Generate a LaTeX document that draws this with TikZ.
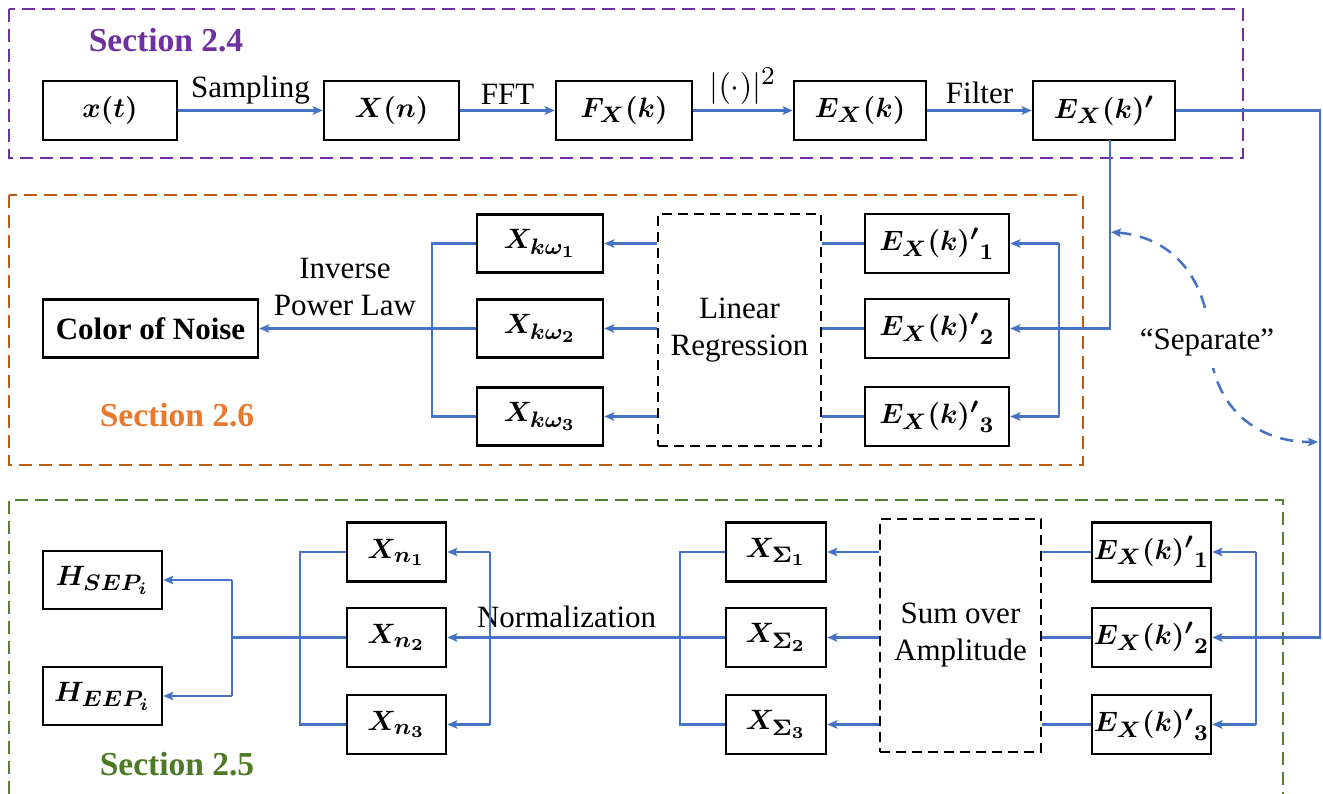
\documentclass[tikz,border=0pt]{standalone}
\usepackage{graphicx}
\usepackage{fontspec}
\setmainfont{Liberation Serif}
\DeclareMathSizes{10}{10}{8}{6}
\newcommand{\mth}[1]{\scalebox{2.8}{\boldmath$#1$}}
\usetikzlibrary{arrows.meta}
\definecolor{lblue}{HTML}{4472C4}
\definecolor{secpurple}{HTML}{7030A0}
\definecolor{secorange}{HTML}{C55A11}
\definecolor{txtorange}{HTML}{E8792F}
\definecolor{secgreen}{HTML}{548235}
\definecolor{txtgreen}{HTML}{4E7A27}
\tikzset{
  box/.style={draw=black, line width=2.7pt, inner sep=0pt, fill=white},
  conn/.style={draw=lblue, line width=2.4pt},
  arr/.style={conn, -{Stealth[length=10pt,width=8.5pt,inset=2pt]}},
  secbox/.style={line width=1.8pt, dash pattern=on 13pt off 7pt},
  procbox/.style={draw=black, line width=2.8pt, dash pattern=on 10pt off 6pt, inner sep=0pt,
    align=center, font=\fontsize{31}{37}\selectfont},
  lbl/.style={font=\fontsize{31}{37}\selectfont, align=center, inner sep=0pt},
  sectxt/.style={font=\bfseries\fontsize{33.5}{36}\selectfont, inner sep=0pt},
  sepline/.style={draw=lblue, line width=2.5pt, dash pattern=on 13pt off 9pt,
    {Stealth[length=10pt,width=8.5pt,inset=2pt]}-{Stealth[length=10pt,width=8.5pt,inset=2pt]}}
}
\begin{document}
\begin{tikzpicture}[x=1pt,y=-1pt]
\useasboundingbox (0,0) rectangle (1323,794);
\fill[white] (0,0) rectangle (1323,794);

% section frames
\draw[secbox, secpurple] (9,9) rectangle (1243,158);
\draw[secbox, secorange] (9,195) rectangle (1083,465);
\draw[secbox, secgreen] (9,794) -- (9,500) -- (1283,500) -- (1283,794);

\node[sectxt, text=secpurple] (s24) at (166,40) {Section 2.4};
\node[sectxt, text=txtorange] (s26) at (177,415) {Section 2.6};
\node[sectxt, text=txtgreen] (s25) at (177,764) {Section 2.5};

% top row
\node[box, minimum width=134pt, minimum height=59pt] (xt)  at (110,110.5) {\mth{x(t)}};
\node[box, minimum width=135pt, minimum height=59pt] (Xn)  at (391.5,110.5) {\mth{X(n)}};
\node[box, minimum width=136pt, minimum height=59pt] (FX)  at (624,110.5) {\mth{F_X(k)}};
\node[box, minimum width=132pt, minimum height=59pt] (EX)  at (860,110.5) {\mth{E_X(k)}};
\node[box, minimum width=142pt, minimum height=59pt] (EXp) at (1104,110.5) {\mth{E_X(k)'}};

\draw[arr] (xt) -- node[lbl, above=5pt] (l1) {Sampling} (Xn);
\draw[arr] (Xn) -- node[lbl, above=5pt] (l2) {FFT} (FX);
\draw[arr] (FX) -- node[lbl, above=5pt, font=\fontsize{10}{12}\selectfont] (l3) {\scalebox{3.2}{$|(\cdot)|^2$}} (EX);
\draw[arr] (EX) -- node[lbl, above=5pt] (l4) {Filter} (EXp);

% middle section
\node[box, minimum width=144pt, minimum height=59pt] (Ep1) at (937,243.5) {\mth{{E_X(k)'}_1}};
\node[box, minimum width=144pt, minimum height=59pt] (Ep2) at (937,328.5) {\mth{{E_X(k)'}_2}};
\node[box, minimum width=144pt, minimum height=59pt] (Ep3) at (937,416.5) {\mth{{E_X(k)'}_3}};
\node[procbox, minimum width=163pt, minimum height=232pt] (LR) at (739.5,330) {Linear\\Regression};
\node[box, minimum width=126pt, minimum height=58pt] (Xk1) at (540,243.5) {\mth{X_{k\omega_1}}};
\node[box, minimum width=126pt, minimum height=58pt] (Xk2) at (540,328.5) {\mth{X_{k\omega_2}}};
\node[box, minimum width=126pt, minimum height=58pt] (Xk3) at (540,416.5) {\mth{X_{k\omega_3}}};
\node[box, minimum width=215pt, minimum height=58pt, font=\bfseries\fontsize{31}{33}\selectfont] (CoN) at (150.5,328.5) {Color of Noise};

\coordinate (Ed) at (1110,140);
\coordinate (vm) at (1059,330);
\draw[arr] (Ed) |- (Ep2.east);
\draw[conn] (vm |- Ep1.east) -- (vm |- Ep3.east);
\draw[arr] (vm |- Ep1.east) -- (Ep1.east);
\draw[arr] (vm |- Ep3.east) -- (Ep3.east);

\foreach \i in {1,2,3}{
  \draw[conn] (Ep\i.west) -- (Ep\i.west -| LR.east);
  \draw[arr] (LR.west |- Xk\i.east) -- (Xk\i.east);
}
\coordinate (vk) at (432,330);
\draw[conn] (Xk1.west) -- (vk |- Xk1.west) -- (vk |- Xk3.west) -- (Xk3.west);
\draw[arr] (Xk2.west) -- (CoN.east);
\node[lbl] (ipl) at (345,287) {Inverse\\Power Law};

% separate arc
\draw[sepline] (1111,232) .. controls (1180,238) and (1209,288) .. (1210,345)
   .. controls (1212,400) and (1250,442) .. (1318,442);
\node[lbl, fill=white, inner ysep=12pt, inner xsep=2pt] (sep) at (1207,342) {``Separate''};

% bottom section
\node[box, minimum width=119pt, minimum height=59pt] (Eb1) at (1151.5,552) {\mth{{E_X(k)'}_1}};
\node[box, minimum width=119pt, minimum height=59pt] (Eb2) at (1151.5,637.5) {\mth{{E_X(k)'}_2}};
\node[box, minimum width=119pt, minimum height=59pt] (Eb3) at (1151.5,724.5) {\mth{{E_X(k)'}_3}};
\node[procbox, minimum width=161pt, minimum height=233pt] (SA) at (960.5,635.5) {Sum over\\Amplitude};
\node[box, minimum width=100pt, minimum height=59pt] (XS1) at (776,552) {\mth{X_{\Sigma_1}}};
\node[box, minimum width=100pt, minimum height=59pt] (XS2) at (776,637.5) {\mth{X_{\Sigma_2}}};
\node[box, minimum width=100pt, minimum height=59pt] (XS3) at (776,724.5) {\mth{X_{\Sigma_3}}};
\node[box, minimum width=99pt, minimum height=59pt] (Xn1) at (396.5,552) {\mth{X_{n_1}}};
\node[box, minimum width=99pt, minimum height=59pt] (Xn2) at (396.5,637.5) {\mth{X_{n_2}}};
\node[box, minimum width=99pt, minimum height=59pt] (Xn3) at (396.5,724.5) {\mth{X_{n_3}}};
\node[box, minimum width=119pt, minimum height=58pt] (Hs) at (102.5,580) {\mth{H_{SEP_i}}};
\node[box, minimum width=119pt, minimum height=58pt] (He) at (102.5,696) {\mth{H_{EEP_i}}};

\coordinate (R) at (1320,400);
\draw[arr] (EXp.east) -| (R) |- (Eb2.east);
\coordinate (vb) at (1256,640);
\draw[conn] (vb |- Eb1.east) -- (vb |- Eb3.east);
\draw[arr] (vb |- Eb1.east) -- (Eb1.east);
\draw[arr] (vb |- Eb3.east) -- (Eb3.east);

\foreach \i in {1,2,3}{
  \draw[conn] (Eb\i.west) -- (Eb\i.west -| SA.east);
  \draw[arr] (SA.west |- XS\i.east) -- (XS\i.east);
}
\coordinate (vs) at (680,640);
\draw[conn] (XS1.west) -- (vs |- XS1.west) -- (vs |- XS3.west) -- (XS3.west);
\draw[arr] (XS2.west) -- node[lbl, above=8pt, pos=0.57] (norm) {Normalization} (Xn2.east);
\coordinate (vn) at (490,640);
\draw[conn] (vn |- Xn1.east) -- (vn |- Xn3.east);
\draw[arr] (vn |- Xn1.east) -- (Xn1.east);
\draw[arr] (vn |- Xn3.east) -- (Xn3.east);
\coordinate (vl) at (300,640);
\draw[conn] (Xn1.west) -- (vl |- Xn1.west) -- (vl |- Xn3.west) -- (Xn3.west);
\coordinate (vh) at (232,640);
\draw[conn] (Xn2.west) -- (vh |- Xn2.west);
\draw[conn] (vh |- Hs.east) -- (vh |- He.east);
\draw[arr] (vh |- Hs.east) -- (Hs.east);
\draw[arr] (vh |- He.east) -- (He.east);
\end{tikzpicture}
\end{document}
